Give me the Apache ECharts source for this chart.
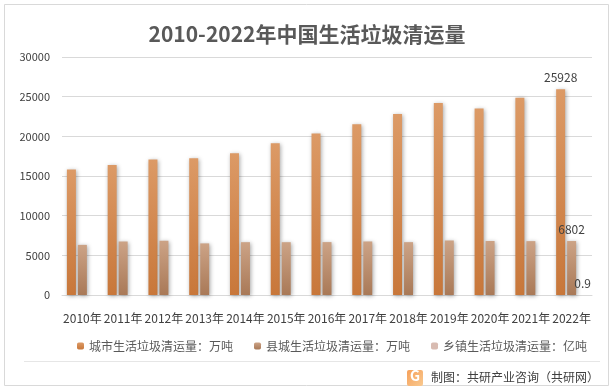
<!DOCTYPE html>
<html>
<head>
<meta charset="utf-8">
<script src="https://cdn.jsdelivr.net/npm/echarts@6/dist/echarts.min.js"></script>
<style>
html,body{margin:0;padding:0;background:#fff;}
#c{width:614px;height:390px;}
</style>
</head>
<body>
<div id="c"></div>
<script>
const years = ['2010年','2011年','2012年','2013年','2014年','2015年','2016年','2017年','2018年','2019年','2020年','2021年','2022年'];
const cityWaste = [15805,16395,17081,17239,17860,19142,20362,21521,22802,24206,23512,24869,25928];
const countyWaste = [6317,6743,6838,6505,6657,6655,6666,6747,6660,6871,6810,6791,6802];
const townWaste = [null,null,null,null,null,null,null,null,null,null,null,null,0.9];
const seriesNames = ['城市生活垃圾清运量：万吨','县城生活垃圾清运量：万吨','乡镇生活垃圾清运量：亿吨'];
const yTicks = [0,5000,10000,15000,20000,25000,30000];

const FONT = '"Noto Sans CJK SC", "Noto Sans", sans-serif';
const lastIdx = years.length - 1;
function withLastLabel(arr){
  return arr.map((v,i)=> i===lastIdx ? {value: v===null?'-':v, label:{show:true}} : (v===null?'-':v));
}
const shadow = {shadowColor:'rgba(0,0,0,0.35)', shadowBlur:4, shadowOffsetX:1, shadowOffsetY:1};
const chart = echarts.init(document.getElementById('c'), null, {renderer:'canvas'});
chart.setOption({
  animation:false,
  backgroundColor:'#fff',
  title:{
    text:'2010-2022年中国生活垃圾清运量',
    left:'center', top:19,
    textStyle:{fontFamily:FONT, fontSize:21, fontWeight:'bold', color:'#595959'}
  },
  legend:{
    data:seriesNames,
    left:77, top:340, padding:0,
    itemWidth:7, itemHeight:7, itemGap:21,
    textStyle:{fontFamily:FONT, fontSize:12, color:'#595959'}
  },
  grid:{left:62, right:22, top:57, bottom:95},
  xAxis:{
    type:'category', data:years,
    axisLine:{lineStyle:{color:'#d9d9d9'}},
    axisTick:{show:false},
    axisLabel:{fontFamily:FONT, fontSize:12, color:'#404040', margin:17, interval:0}
  },
  yAxis:{
    type:'value', min:yTicks[0], max:yTicks[yTicks.length-1], interval:5000,
    axisLine:{show:false}, axisTick:{show:false},
    splitLine:{lineStyle:{color:'#d9d9d9'}},
    axisLabel:{fontFamily:FONT, fontSize:11, color:'#404040', margin:12, formatter:(v)=>String(v)}
  },
  series:[
    {
      name:seriesNames[0], type:'bar', barWidth:9, barGap:'22%',
      data:withLastLabel(cityWaste),
      label:{show:false, position:'top', fontFamily:FONT, fontSize:12, color:'#404040', distance:6},
      itemStyle:Object.assign({color:new echarts.graphic.LinearGradient(0,0,0,1,[{offset:0,color:'#DC9A66'},{offset:1,color:'#C8773A'}])}, shadow)
    },
    {
      name:seriesNames[1], type:'bar', barWidth:9, barGap:'22%',
      data:withLastLabel(countyWaste),
      label:{show:false, position:'top', fontFamily:FONT, fontSize:12, color:'#404040', distance:6},
      itemStyle:Object.assign({color:new echarts.graphic.LinearGradient(0,0,0,1,[{offset:0,color:'#CCA386'},{offset:1,color:'#A97957'}])}, shadow)
    },
    {
      name:seriesNames[2], type:'bar', barWidth:9, barGap:'22%',
      data:withLastLabel(townWaste),
      label:{show:false, position:'top', fontFamily:FONT, fontSize:12, color:'#404040', distance:6},
      itemStyle:{color:'#D8BBB1'}
    }
  ],
  graphic:[
    {type:'rect', shape:{x:4.5,y:4.5,width:604,height:381}, style:{fill:'none', stroke:'#d9d9d9', lineWidth:1}, silent:true},
    {type:'line', shape:{x1:24,y1:361.5,x2:600,y2:361.5}, style:{stroke:'#e6e6e6', lineWidth:1}},
    {type:'rect', shape:{x:407,y:370,width:16,height:16,r:2}, style:{fill:new echarts.graphic.LinearGradient(0,0,1,1,[{offset:0,color:'#F6A05A'},{offset:1,color:'#F9C98F'}])}},
    {type:'text', left:410, top:369, style:{text:'G', font:'bold 14px '+FONT, fill:'#fff'}},
    {type:'text', left:431, top:371, style:{text:'制图：共研产业咨询（共研网）', font:'12px '+FONT, fill:'#404040'}}
  ]
});
</script>
</body>
</html>
